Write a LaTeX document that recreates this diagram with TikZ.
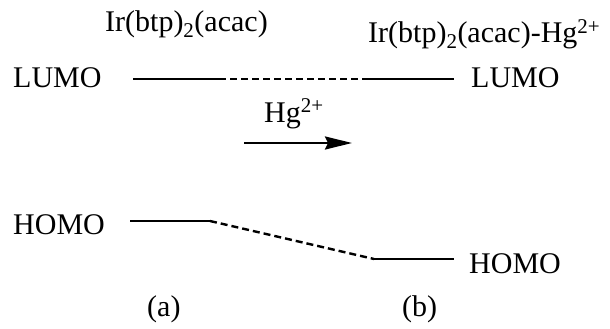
\documentclass[tikz,border=0pt]{standalone}
\usepackage{fontspec}
\setmainfont{Liberation Serif}
\usetikzlibrary{arrows.meta}
\begin{document}
\begin{tikzpicture}[x=1pt,y=-1pt,
  lbl/.style={inner sep=0pt,anchor=base west,font=\fontsize{30}{32}\selectfont},
  level/.style={line width=2.4pt},
  link/.style={line width=2.4pt,dash pattern=on 7pt off 4pt},
  react/.style={line width=2.4pt,-{Stealth[length=27pt,width=13pt,inset=3pt]}}]
\useasboundingbox (0,0) rectangle (610,329);
% text labels
\node[lbl] (t1) at (105,32) {Ir(btp)\textsubscript{2}(acac)};
\node[lbl] (t2) at (368,43) {Ir(btp)\textsubscript{2}(acac)-Hg\textsuperscript{2+}};
\node[lbl] (lumoL) at (13,87) {LUMO};
\node[lbl] (lumoR) at (471,87) {LUMO};
\node[lbl] (hg) at (264,122) {Hg\textsuperscript{2+}};
\node[lbl] (homoL) at (13,234) {HOMO};
\node[lbl] (homoR) at (469,273) {HOMO};
\node[lbl] (la) at (147,316) {(a)};
\node[lbl] (lb) at (402,316) {(b)};
% level coordinates
\coordinate (l1) at (133,79);
\coordinate (l2) at (219,79);
\coordinate (l3) at (369,79);
\coordinate (l4) at (454,79);
\coordinate (h1) at (130,221);
\coordinate (h2) at (210,221);
\coordinate (h3) at (374,259);
\coordinate (h4) at (454,259);
\coordinate (a1) at (244,143);
\coordinate (a2) at (352,143);
% LUMO
\draw[level] (l1) -- (l2);
\draw[link] (l2) -- (l3);
\draw[level] (l3) -- (l4);
% HOMO
\draw[level] (h1) -- (h2);
\draw[link] (h2) -- (h3);
\draw[level] (h3) -- (h4);
% reaction arrow
\draw[react] (a1) -- (a2);
\end{tikzpicture}
\end{document}
